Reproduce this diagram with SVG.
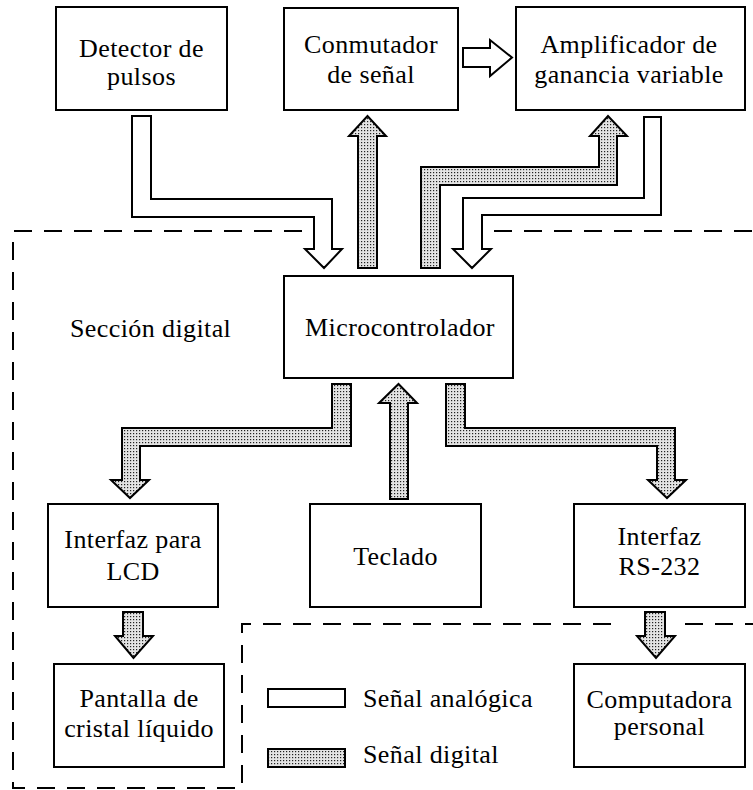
<svg xmlns="http://www.w3.org/2000/svg" width="753" height="790" viewBox="0 0 753 790">
<defs>
<pattern id="dots" width="3" height="3" patternUnits="userSpaceOnUse">
<rect width="3" height="3" fill="#e4e4e4"/>
<rect x="1" y="1" width="1.2" height="1.2" fill="#222"/>
</pattern>
</defs>
<style>
.box{fill:#fff;stroke:#000;stroke-width:2}
.ana{fill:#fff;stroke:#000;stroke-width:2;stroke-linejoin:miter}
.dig{fill:url(#dots);stroke:#000;stroke-width:2;stroke-linejoin:miter}
.dash{fill:none;stroke:#000;stroke-width:2;stroke-dasharray:18 12}
text{font-family:"Liberation Serif","Times New Roman",serif;font-size:26px;letter-spacing:0.4px;fill:#000}
.c{text-anchor:middle}
</style>
<rect width="753" height="790" fill="#fff"/>
<g id="section-boundary">
<path class="dash" d="M302,231 H13 V788 H242 V624 H620"/>
<path class="dash" d="M494,231 H753"/>
<path class="dash" d="M685,624 H753"/>
</g>
<g id="connectors">
<path class="ana" d="M132,116 H151 V199 H332 V249 H342 L324,268 L305,249 H314 V217 H132 Z"/>
<path class="dig" d="M358,268 V136 H349 L367.5,116 L386,136 H377 V268 Z"/>
<path class="ana" d="M463,48 H490 V40 L512,57.5 L490,76 V67 H463 Z"/>
<path class="dig" d="M421,268 V167 H599 V136 H590 L608,116 L627,136 H617 V185 H440 V268 Z"/>
<path class="ana" d="M644,117 H661 V215 H482 V249 H491 L472,268 L453,249 H463 V198 H644 Z"/>
<path class="dig" d="M332,384 H351 V446 H140 V480 H149 L130,498 L111,480 H122 V428 H332 Z"/>
<path class="dig" d="M390,499 V403 H379 L398.5,384 L417,403 H408 V499 Z"/>
<path class="dig" d="M446,384 H465 V428 H675 V480 H686 L667,498 L648,480 H657 V446 H446 Z"/>
<path class="dig" d="M123,612 H143 V636 H153 L133.5,658 L115,636 H123 Z"/>
<path class="dig" d="M645,612 H665 V636 H675 L656,658 L637,636 H645 Z"/>
</g>
<g id="detector">
<rect class="box" x="56" y="7" width="171" height="103"/>
<text class="c" x="141.5" y="57">Detector de</text>
<text class="c" x="141.5" y="85">pulsos</text>
</g>
<g id="conmutador">
<rect class="box" x="284" y="8" width="174" height="102"/>
<text class="c" x="371" y="53">Conmutador</text>
<text class="c" x="371" y="83">de señal</text>
</g>
<g id="amplificador">
<rect class="box" x="516" y="7" width="229" height="103"/>
<text class="c" x="629" y="53">Amplificador de</text>
<text class="c" x="629" y="83">ganancia variable</text>
</g>
<g id="microcontrolador">
<rect class="box" x="284" y="276" width="229" height="102"/>
<text class="c" x="400" y="336">Microcontrolador</text>
</g>
<g id="seccion-label">
<text x="70" y="337">Sección digital</text>
</g>
<g id="interfaz-lcd">
<rect class="box" x="48" y="504" width="170" height="103"/>
<text class="c" x="133" y="548">Interfaz para</text>
<text class="c" x="133" y="580">LCD</text>
</g>
<g id="teclado">
<rect class="box" x="310" y="504" width="171" height="103"/>
<text class="c" x="395.5" y="565">Teclado</text>
</g>
<g id="interfaz-rs232">
<rect class="box" x="574" y="504" width="171" height="103"/>
<text class="c" x="659.5" y="545">Interfaz</text>
<text class="c" x="659.5" y="575">RS-232</text>
</g>
<g id="pantalla">
<rect class="box" x="54" y="664" width="170" height="103"/>
<text class="c" x="139" y="707">Pantalla de</text>
<text class="c" x="139" y="737">cristal líquido</text>
</g>
<g id="computadora">
<rect class="box" x="574" y="664" width="171" height="103"/>
<text class="c" x="659.5" y="708">Computadora</text>
<text class="c" x="659.5" y="735">personal</text>
</g>
<g id="legend">
<rect class="ana" x="268" y="689" width="77" height="18"/>
<text x="363" y="707">Señal analógica</text>
<rect class="dig" x="268" y="749" width="77" height="18"/>
<text x="363" y="763">Señal digital</text>
</g>
</svg>
